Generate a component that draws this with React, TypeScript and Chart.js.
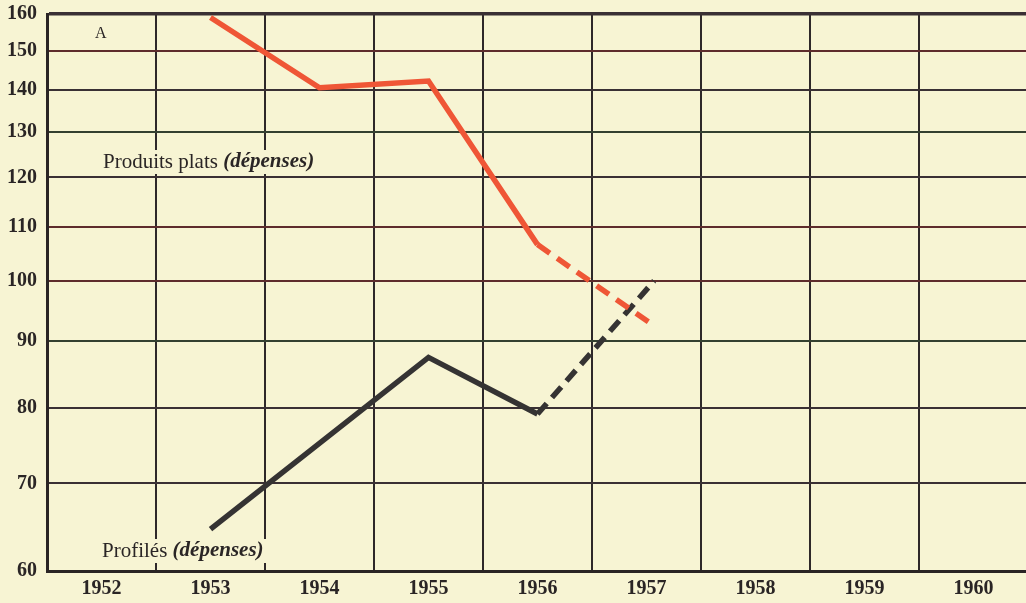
import React, { useEffect, useRef } from "react";
import { Chart, registerables } from "chart.js";

Chart.register(...registerables);

// Data
const yearLabels = [1952, 1953, 1954, 1955, 1956, 1957, 1958, 1959, 1960];
const yTickValues = [60, 70, 80, 90, 100, 110, 120, 130, 140, 150, 160];

const platsYears = [1953, 1954, 1955, 1956, 1957.03];
const platsValues = [159, 140.5, 142.2, 106.6, 92.9];
const platsDashFrom = 3; // segments after 1956 are estimates (dashed)

const profilesYears = [1953, 1955, 1956, 1957.07];
const profilesValues = [64.6, 87.4, 79.1, 100];
const profilesDashFrom = 2;

const BG = "#f7f4d3";
const RED = "#ef5636";
const BLACK = "#353333";
const FONT = "'Liberation Serif', 'DejaVu Serif', serif";

const hLineColor = (v: number) => {
  if (v === 150 || v === 110 || v === 100) return "#5e2c2c";
  if (v === 130 || v === 90) return "#34402f";
  return "#3a3034";
};

const bgPlugin = {
  id: "bgPlugin",
  beforeDraw(chart: any) {
    const { ctx, width, height } = chart;
    ctx.save();
    ctx.fillStyle = BG;
    ctx.fillRect(0, 0, width, height);
    ctx.restore();
  },
};

const textPlugin = {
  id: "textPlugin",
  beforeDatasetsDraw(chart: any) {
    const { ctx } = chart;
    const drawParts = (x: number, y: number, parts: { t: string; f: string }[]) => {
      ctx.save();
      ctx.textBaseline = "middle";
      ctx.textAlign = "left";
      let w = 0;
      parts.forEach((p) => {
        ctx.font = p.f;
        w += ctx.measureText(p.t).width;
      });
      ctx.fillStyle = BG;
      ctx.fillRect(x - 3, y - 12, w + 6, 24);
      ctx.fillStyle = "#2a2525";
      let cx = x;
      parts.forEach((p) => {
        ctx.font = p.f;
        ctx.fillText(p.t, cx, y);
        cx += ctx.measureText(p.t).width;
      });
      ctx.restore();
    };
    ctx.save();
    ctx.font = `16px ${FONT}`;
    ctx.fillStyle = "#2a2525";
    ctx.textBaseline = "middle";
    ctx.fillText("A", 95, 34);
    ctx.restore();
    drawParts(103, 162, [
      { t: "Produits plats ", f: `21px ${FONT}` },
      { t: "(dépenses)", f: `italic bold 21px ${FONT}` },
    ]);
    drawParts(102, 551, [
      { t: "Profilés ", f: `21px ${FONT}` },
      { t: "(dépenses)", f: `italic bold 21px ${FONT}` },
    ]);
  },
};

export default function App() {
  const ref = useRef<HTMLCanvasElement | null>(null);

  useEffect(() => {
    if (!ref.current) return;
    const xTicks: number[] = [];
    for (let v = 1951.5; v <= 1960.5 + 1e-9; v += 0.5) xTicks.push(v);

    const chart = new Chart(ref.current, {
      type: "line",
      data: {
        datasets: [
          {
            label: "Produits plats (dépenses)",
            data: platsYears.map((x, i) => ({ x, y: platsValues[i] })),
            borderColor: RED,
            borderWidth: 5.5,
            pointRadius: 0,
            tension: 0,
            segment: {
              borderDash: (c: any) => (c.p0DataIndex >= platsDashFrom ? [15, 9] : undefined),
            },
          },
          {
            label: "Profilés (dépenses)",
            data: profilesYears.map((x, i) => ({ x, y: profilesValues[i] })),
            borderColor: BLACK,
            borderWidth: 5.5,
            pointRadius: 0,
            tension: 0,
            segment: {
              borderDash: (c: any) => (c.p0DataIndex >= profilesDashFrom ? [14, 8] : undefined),
            },
          },
        ],
      },
      options: {
        responsive: false,
        animation: false,
        layout: { padding: { left: 3, top: 14, right: 0, bottom: 0 } },
        plugins: { legend: { display: false }, tooltip: { enabled: false } },
        scales: {
          x: {
            type: "linear",
            min: 1951.5,
            max: 1960.5,
            afterBuildTicks: (s: any) => {
              s.ticks = xTicks.map((value) => ({ value }));
            },
            afterFit: (s: any) => {
              s.height = 32;
              s.paddingLeft = 0;
              s.paddingRight = 0;
            },
            grid: {
              drawTicks: false,
              color: (c: any) => {
                const v = c.tick ? c.tick.value : 0;
                if (Math.abs(v - Math.round(v)) < 1e-6) return "rgba(0,0,0,0)";
                if (v < 1952) return "rgba(0,0,0,0)";
                return "#2e2829";
              },
              lineWidth: 2,
            },
            border: { display: true, width: 3, color: "#2a2424" },
            ticks: {
              autoSkip: false,
              maxRotation: 0,
              padding: 6,
              color: "#2a2525",
              font: { family: FONT, size: 20, weight: "bold" },
              callback: (v: any) => {
                const n = Number(v);
                return Math.abs(n - Math.round(n)) < 1e-6 && yearLabels.includes(Math.round(n))
                  ? String(Math.round(n))
                  : "";
              },
            },
          },
          y: {
            type: "logarithmic",
            min: 60,
            max: 160,
            afterBuildTicks: (s: any) => {
              s.ticks = yTickValues.map((value) => ({ value }));
            },
            afterFit: (s: any) => {
              s.width = 44;
              s.paddingTop = 0;
              s.paddingBottom = 0;
            },
            grid: {
              drawTicks: false,
              color: (c: any) => hLineColor(c.tick ? c.tick.value : 0),
              lineWidth: (c: any) => (c.tick && c.tick.value === 160 ? 3.5 : 2),
            },
            border: { display: true, width: 3, color: "#2a2424" },
            ticks: {
              crossAlign: "near",
              padding: 10,
              color: "#2a2525",
              font: { family: FONT, size: 20, weight: "bold" },
              callback: (v: any) => String(v),
            },
          },
        },
      },
      plugins: [bgPlugin, textPlugin],
    } as any);

    return () => chart.destroy();
  }, []);

  return (
    <div
      style={{
        position: "fixed",
        left: 0,
        top: 0,
        width: 1026,
        height: 603,
        overflow: "hidden",
        background: BG,
      }}
    >
      <canvas ref={ref} width={1028} height={603} style={{ display: "block" }} />
    </div>
  );
}
